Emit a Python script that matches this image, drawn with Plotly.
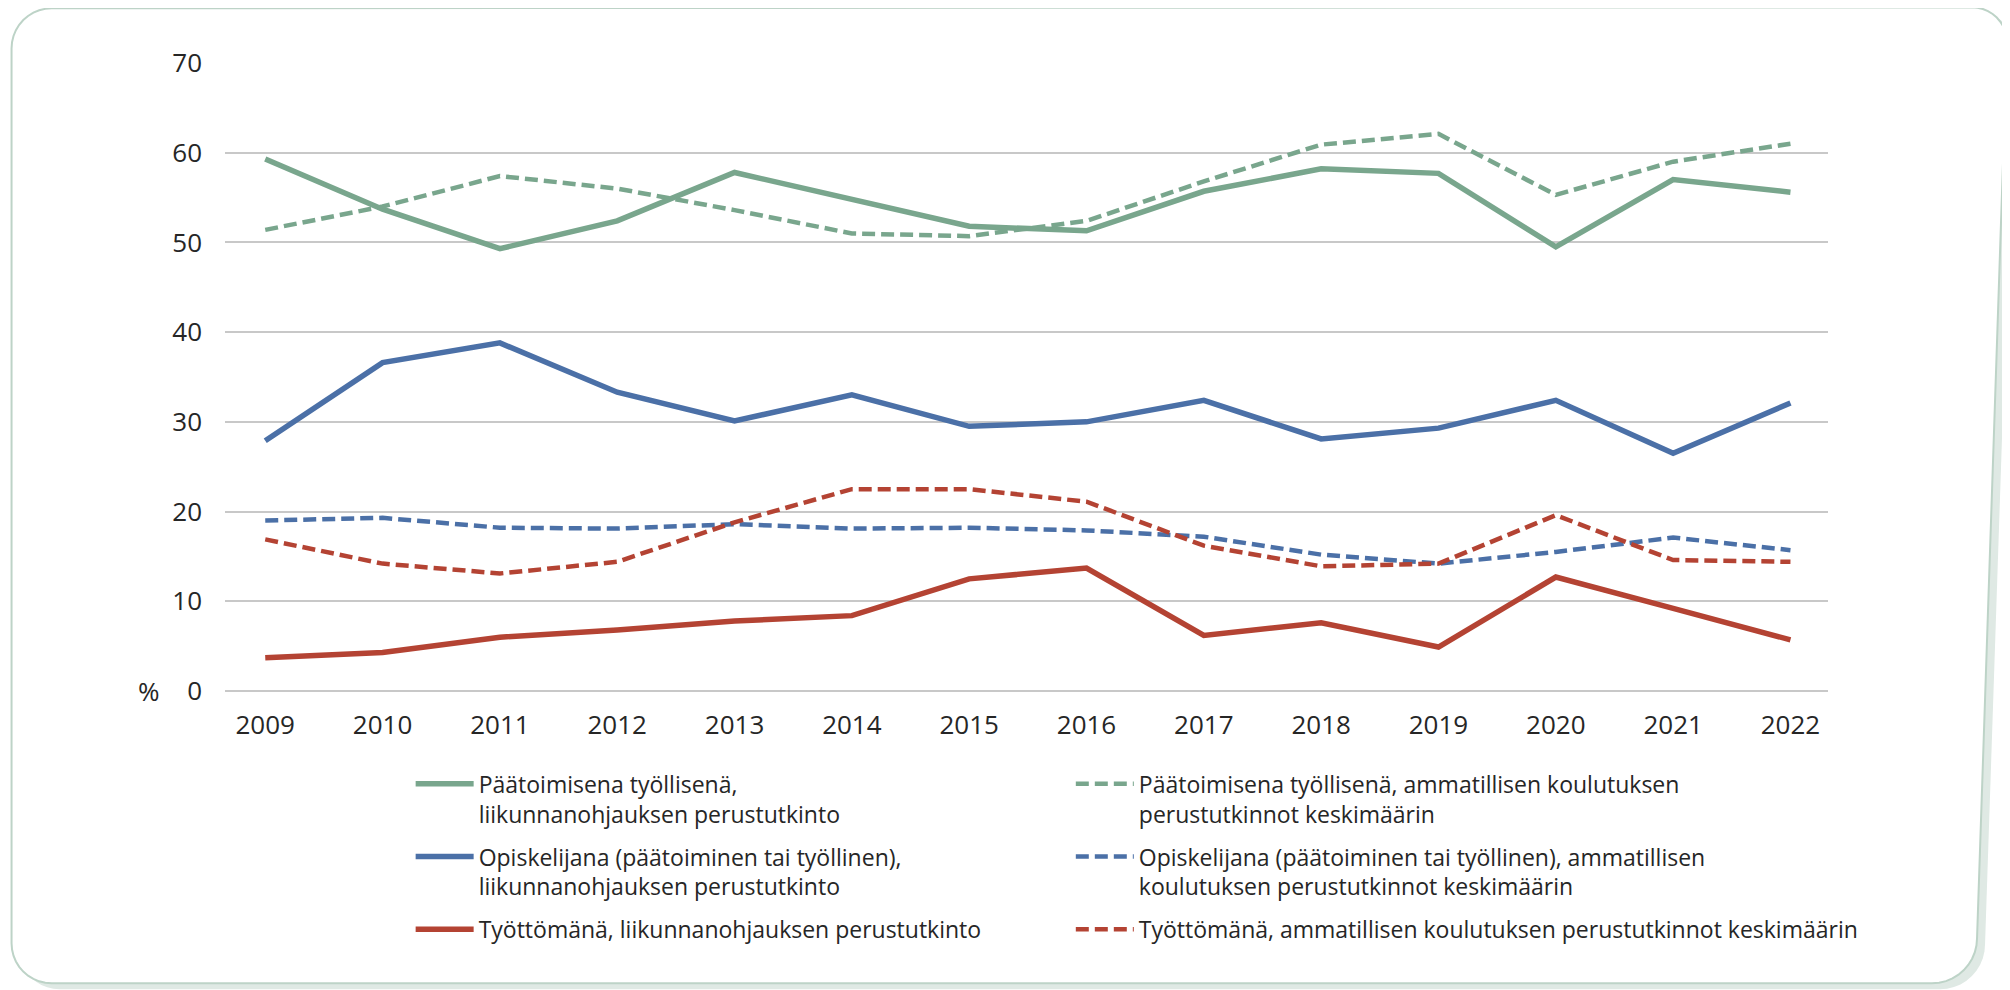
import math
import plotly.graph_objects as go

years = ["2009", "2010", "2011", "2012", "2013", "2014", "2015",
         "2016", "2017", "2018", "2019", "2020", "2021", "2022"]

tyollinen_liik = [59.3, 53.7, 49.3, 52.4, 57.8, 54.8, 51.8, 51.3, 55.7, 58.2, 57.7, 49.5, 57.0, 55.6]
tyollinen_amm = [51.4, 54.0, 57.4, 56.0, 53.6, 51.0, 50.7, 52.4, 56.8, 60.9, 62.1, 55.3, 59.0, 61.0]
opiskelija_liik = [27.9, 36.6, 38.8, 33.3, 30.1, 33.0, 29.5, 30.0, 32.4, 28.1, 29.3, 32.4, 26.5, 32.1]
opiskelija_amm = [19.0, 19.3, 18.2, 18.1, 18.6, 18.1, 18.2, 17.9, 17.2, 15.2, 14.2, 15.5, 17.1, 15.7]
tyoton_liik = [3.7, 4.3, 6.0, 6.8, 7.8, 8.4, 12.5, 13.7, 6.2, 7.6, 4.9, 12.7, 9.2, 5.7]
tyoton_amm = [16.9, 14.2, 13.1, 14.4, 18.8, 22.5, 22.5, 21.1, 16.2, 13.9, 14.2, 19.6, 14.6, 14.4]

names = [
    "Päätoimisena työllisenä,<br>liikunnanohjauksen perustutkinto",
    "Päätoimisena työllisenä, ammatillisen koulutuksen<br>perustutkinnot keskimäärin",
    "Opiskelijana (päätoiminen tai työllinen),<br>liikunnanohjauksen perustutkinto",
    "Opiskelijana (päätoiminen tai työllinen), ammatillisen<br>koulutuksen perustutkinnot keskimäärin",
    "Työttömänä, liikunnanohjauksen perustutkinto",
    "Työttömänä, ammatillisen koulutuksen perustutkinnot keskimäärin",
]
y_ticks = [0, 10, 20, 30, 40, 50, 60, 70]

GREEN = "#79a68d"
BLUE = "#4b70a7"
RED = "#b44333"
FONT = "Open Sans"
TXT = "#262626"

series = [
    (tyollinen_liik, names[0], GREEN, "solid", 5.5, "legend"),
    (opiskelija_liik, names[2], BLUE, "solid", 5.5, "legend"),
    (tyoton_liik, names[4], RED, "solid", 5.5, "legend"),
    (tyollinen_amm, names[1], GREEN, "13px,6px", 4.5, "legend2"),
    (opiskelija_amm, names[3], BLUE, "13px,6px", 4.5, "legend2"),
    (tyoton_amm, names[5], RED, "13px,6px", 4.5, "legend2"),
]

fig = go.Figure()
for i, (vals, nm, col, dash, w, lg) in enumerate(series):
    fig.add_trace(go.Scatter(
        x=years, y=vals, name=nm, mode="lines",
        line=dict(color=col, width=w, dash=dash),
        legend=lg, legendgroup="g%d" % i,
    ))

# page is offset by the 8px body margin
OFF = 8
W, H = 2010 - OFF, 990 - OFF
L, R, T, B = 225.4, 1828.0, 62.7, 690.7   # plot area in page pixels


def px(x):
    return (x - L) / (R - L)


def py(y):
    return (B - y) / (B - T)


def path(points):
    return "M " + " L ".join("%f,%f" % (px(a), py(b)) for a, b in points) + " Z"


def card_path(dx=0.0, dy=0.0):
    pts = []

    def arc(cx, cy, r, a0, a1, n=10):
        for k in range(n + 1):
            a = a0 + (a1 - a0) * k / n
            pts.append((cx + r * math.cos(a) + dx, cy + r * math.sin(a) + dy))
    arc(52, 48, 40, math.pi, 1.5 * math.pi)          # top-left
    arc(1972, 42, 35, 1.5 * math.pi, 2.0 * math.pi)  # top-right
    arc(1932, 938, 45, 0.0, 0.5 * math.pi)            # bottom-right
    arc(52, 943, 40, 0.5 * math.pi, math.pi)          # bottom-left
    return path(pts)


shapes = [
    dict(type="path", xref="paper", yref="paper", layer="below",
         path=path([(1285, 0), (1962, 0), (1972, 9), (1292, 9)]),
         fillcolor="#e2ece7", line=dict(width=0)),
    dict(type="path", xref="paper", yref="paper", layer="below",
         path=card_path(8, 6), fillcolor="#dfe9e4", line=dict(width=0)),
    dict(type="path", xref="paper", yref="paper", layer="below",
         path=card_path(0, 0), fillcolor="#ffffff",
         line=dict(color="#bdd3c7", width=2)),
]

legend_common = dict(
    xanchor="left", yanchor="top", orientation="v",
    font=dict(family=FONT, size=23, color=TXT),
    bgcolor="rgba(0,0,0,0)", itemwidth=58, valign="top",
    tracegroupgap=10, traceorder="grouped",
)

fig.update_layout(
    width=W, height=H,
    margin=dict(l=L - OFF, r=W - (R - OFF), t=T - OFF, b=H - (B - OFF), pad=0),
    paper_bgcolor="#ffffff",
    plot_bgcolor="rgba(0,0,0,0)",
    font=dict(family=FONT, size=26, color=TXT),
    shapes=shapes,
    showlegend=True,
    legend=dict(x=px(411), y=py(762), **legend_common),
    legend2=dict(x=px(1071), y=py(762), **legend_common),
    annotations=[dict(
        text="%", xref="paper", yref="paper", x=px(149), y=0,
        xanchor="center", yanchor="middle", showarrow=False,
        font=dict(family=FONT, size=26, color=TXT),
    )],
)

fig.update_xaxes(
    type="category", range=[-0.343, 13.32], showgrid=False,
    showline=False, zeroline=False, ticks="", ticklabelstandoff=16,
    tickfont=dict(family=FONT, size=26, color=TXT),
)
fig.update_yaxes(
    range=[0, 70], tickvals=y_ticks, showgrid=True, gridcolor="#c8c8c8",
    gridwidth=1.5, zeroline=True, zerolinecolor="#c8c8c8", zerolinewidth=1.5,
    showline=False, ticks="", ticklabelstandoff=22,
    tickfont=dict(family=FONT, size=26, color=TXT),
)

fig.write_html("out.html")
